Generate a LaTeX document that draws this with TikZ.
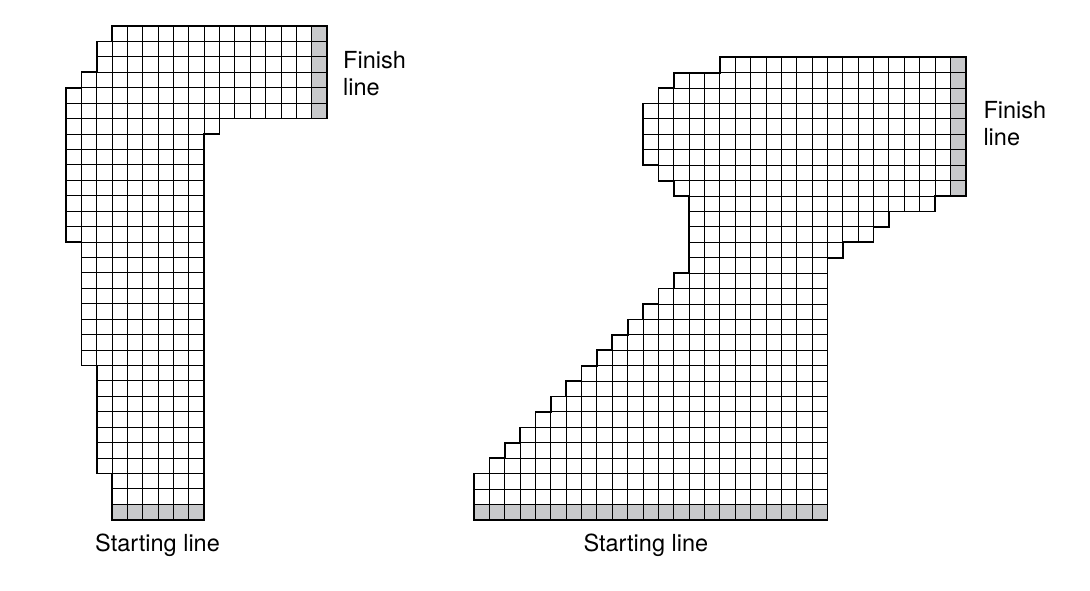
\documentclass[tikz,border=0pt]{standalone}
\usepackage{fontspec}
\setmainfont{TeX Gyre Heros}
\definecolor{linegray}{RGB}{200,201,203}
\tikzset{
  cell/.style={draw=black, line width=1pt},
  rim/.style={draw=black, line width=1.7pt, line join=miter},
  tracktext/.style={inner sep=0pt, font=\fontsize{23.5}{26.7}\selectfont}
}

\begin{document}
\begin{tikzpicture}[x=1pt, y=-1pt]
    \useasboundingbox (0,0) rectangle (1090,591);

    % Left track
    \begin{scope}[shift={(66,26)}, x=15.36pt, y=-15.43pt]
        % finish and start cells
        \fill[linegray] (16,0) rectangle (17,6);
        \fill[linegray] (3,31) rectangle (9,32);
        % grid, row by row
        \foreach \rfirst/\rlast/\a/\b in {0/0/3/16, 1/2/2/16, 3/3/1/16, 4/5/0/16, 6/6/0/9,
                7/13/0/8, 14/21/1/8, 22/28/2/8, 29/31/3/8} {
            \foreach \r in {\rfirst,...,\rlast}
                \foreach \c in {\a,...,\b}
                    \draw[cell] (\c,\r) rectangle ++(1,1);
        }
        % outline
        \draw[rim] (3,0) -- (17,0) -- (17,6) -- (10,6) -- (10,7) -- (9,7) -- (9,32)
            -- (3,32) -- (3,29) -- (2,29) -- (2,22) -- (1,22) -- (1,14) -- (0,14)
            -- (0,4) -- (1,4) -- (1,3) -- (2,3) -- (2,1) -- (3,1) -- cycle;
    \end{scope}

    % Right track
    \begin{scope}[shift={(474,57.3)}, x=15.37pt, y=-15.42pt]
        % finish and start cells
        \fill[linegray] (31,0) rectangle (32,9);
        \fill[linegray] (0,29) rectangle (23,30);
        % grid, row by row
        \foreach \rfirst/\rlast/\a/\b in {0/0/16/31, 1/1/13/31, 2/2/12/31, 3/6/11/31, 7/7/12/31,
                8/8/13/31, 9/9/14/29, 10/10/14/26, 11/11/14/25, 12/12/14/23, 13/13/14/22} {
            \foreach \r in {\rfirst,...,\rlast}
                \foreach \c in {\a,...,\b}
                    \draw[cell] (\c,\r) rectangle ++(1,1);
        }
        % the slanted part: row r starts at column 27-r
        \foreach \r in {14,...,29} {
            \pgfmathtruncatemacro{\a}{max(27-\r,0)}
            \foreach \c in {\a,...,22}
                \draw[cell] (\c,\r) rectangle ++(1,1);
        }
        % outline
        \draw[rim] (16,0) -- (32,0) -- (32,9) -- (30,9) -- (30,10) -- (27,10) -- (27,11)
            -- (26,11) -- (26,12) -- (24,12) -- (24,13) -- (23,13) -- (23,30) -- (0,30)
            -- (0,27) -- (1,27) -- (1,26) -- (2,26) -- (2,25) -- (3,25) -- (3,24) -- (4,24)
            -- (4,23) -- (5,23) -- (5,22) -- (6,22) -- (6,21) -- (7,21) -- (7,20) -- (8,20)
            -- (8,19) -- (9,19) -- (9,18) -- (10,18) -- (10,17) -- (11,17) -- (11,16)
            -- (12,16) -- (12,15) -- (13,15) -- (13,14) -- (14,14) -- (14,9) -- (13,9)
            -- (13,8) -- (12,8) -- (12,7) -- (11,7) -- (11,3) -- (12,3) -- (12,2) -- (13,2)
            -- (13,1) -- (16,1) -- cycle;
    \end{scope}

    % Labels
    \node[tracktext, align=left, anchor=north west] (finishL) at (343,51.5) {Finish\\line};
    \node[tracktext, anchor=base west] (startL) at (95,551.7) {Starting line};
    \node[tracktext, align=left, anchor=north west] (finishR) at (983.3,101.5) {Finish\\line};
    \node[tracktext, anchor=base west] (startR) at (583.3,551.7) {Starting line};
\end{tikzpicture}
\end{document}
